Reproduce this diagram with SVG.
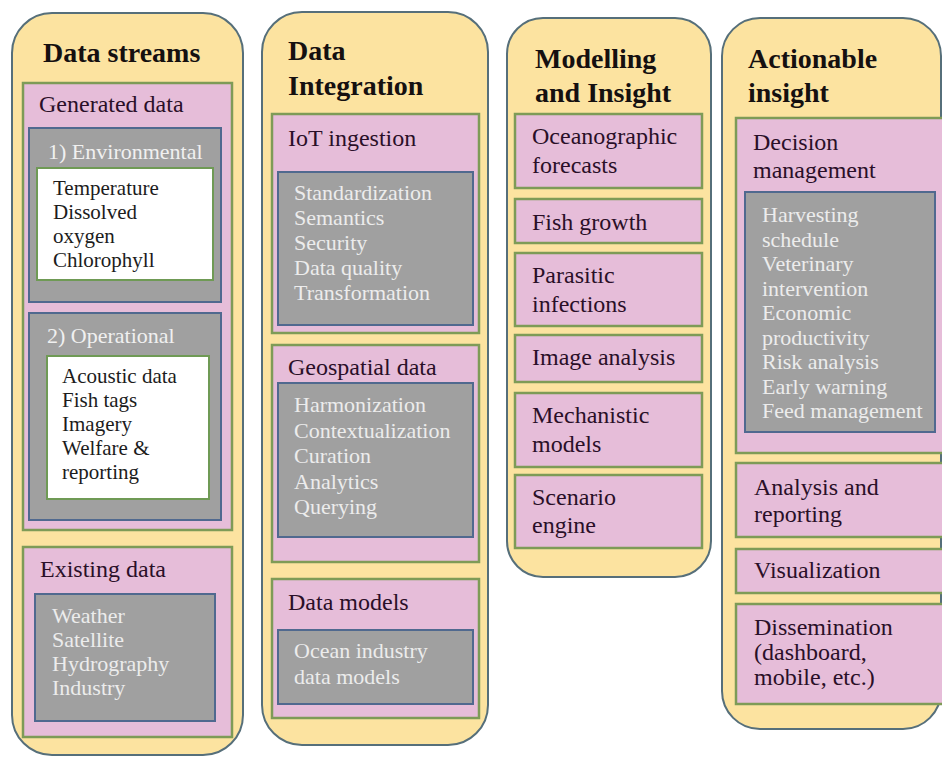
<svg xmlns="http://www.w3.org/2000/svg" width="942" height="758" viewBox="0 0 942 758" font-family="'Liberation Serif', 'DejaVu Serif', serif">
  <style>
    .col { fill: #fce3a0; stroke: #566f7a; stroke-width: 2; }
    .pink { fill: #e6bdd9; stroke: #7e9b57; stroke-width: 2.5; }
    .grey { fill: #a0a0a0; stroke: #50698f; stroke-width: 2; }
    .white { fill: #ffffff; stroke: #6f9a55; stroke-width: 2; }
    text { font-family: 'Liberation Serif', 'DejaVu Serif', serif; }
    .title { font-size: 28px; font-weight: bold; fill: #151010; }
    .head { font-size: 24px; fill: #2a0f28; }
    .item { font-size: 22px; fill: #ececec; }
    .sub { font-size: 22px; fill: #f0f0f0; }
    .dark { font-size: 21px; fill: #1c1c1c; }
  </style>
  <rect width="942" height="758" fill="#ffffff"/>

  <!-- Column 1: Data streams -->
  <g id="data-streams">
    <rect class="col" x="12" y="13" width="231" height="742" rx="40"/>
    <text class="title" x="43" y="62">Data streams</text>
    <g id="generated-data">
      <rect class="pink" x="23" y="83" width="209" height="447"/>
      <text class="head" x="39" y="112">Generated data</text>
      <g id="environmental">
        <rect class="grey" x="29" y="128" width="192" height="174"/>
        <text class="sub" x="48" y="159">1) Environmental</text>
        <rect class="white" x="37" y="168" width="176" height="112"/>
        <text class="dark" x="53" y="195">Temperature</text>
        <text class="dark" x="53" y="219">Dissolved</text>
        <text class="dark" x="53" y="243">oxygen</text>
        <text class="dark" x="53" y="267">Chlorophyll</text>
      </g>
      <g id="operational">
        <rect class="grey" x="29" y="313" width="192" height="207"/>
        <text class="sub" x="47" y="343">2) Operational</text>
        <rect class="white" x="47" y="356" width="162" height="143"/>
        <text class="dark" x="62" y="383">Acoustic data</text>
        <text class="dark" x="62" y="407">Fish tags</text>
        <text class="dark" x="62" y="431">Imagery</text>
        <text class="dark" x="62" y="455">Welfare &amp;</text>
        <text class="dark" x="62" y="479">reporting</text>
      </g>
    </g>
    <g id="existing-data">
      <rect class="pink" x="23" y="547" width="209" height="190"/>
      <text class="head" x="40" y="577">Existing data</text>
      <rect class="grey" x="35" y="594" width="180" height="127"/>
      <text class="item" x="52" y="623">Weather</text>
      <text class="item" x="52" y="647">Satellite</text>
      <text class="item" x="52" y="671">Hydrography</text>
      <text class="item" x="52" y="695">Industry</text>
    </g>
  </g>

  <!-- Column 2: Data Integration -->
  <g id="data-integration">
    <rect class="col" x="262" y="12" width="226" height="733" rx="40"/>
    <text class="title" x="288" y="60">Data</text>
    <text class="title" x="288" y="95">Integration</text>
    <g id="iot-ingestion">
      <rect class="pink" x="272" y="114" width="207" height="219"/>
      <text class="head" x="288" y="146">IoT ingestion</text>
      <rect class="grey" x="278" y="172" width="195" height="153"/>
      <text class="item" x="294" y="200">Standardization</text>
      <text class="item" x="294" y="225">Semantics</text>
      <text class="item" x="294" y="250">Security</text>
      <text class="item" x="294" y="275">Data quality</text>
      <text class="item" x="294" y="300">Transformation</text>
    </g>
    <g id="geospatial-data">
      <rect class="pink" x="272" y="345" width="207" height="217"/>
      <text class="head" x="288" y="375">Geospatial data</text>
      <rect class="grey" x="278" y="383" width="195" height="154"/>
      <text class="item" x="294" y="412">Harmonization</text>
      <text class="item" x="294" y="437.5">Contextualization</text>
      <text class="item" x="294" y="463">Curation</text>
      <text class="item" x="294" y="488.5">Analytics</text>
      <text class="item" x="294" y="514">Querying</text>
    </g>
    <g id="data-models">
      <rect class="pink" x="272" y="579" width="207" height="139"/>
      <text class="head" x="288" y="610">Data models</text>
      <rect class="grey" x="278" y="630" width="195" height="74"/>
      <text class="item" x="294" y="658">Ocean industry</text>
      <text class="item" x="294" y="684">data models</text>
    </g>
  </g>

  <!-- Column 3: Modelling and Insight -->
  <g id="modelling-insight">
    <rect class="col" x="507" y="18" width="204" height="559" rx="36"/>
    <text class="title" x="535" y="68">Modelling</text>
    <text class="title" x="535" y="102">and Insight</text>
    <g id="oceanographic-forecasts">
      <rect class="pink" x="515" y="114" width="187" height="74"/>
      <text class="head" x="532" y="144">Oceanographic</text>
      <text class="head" x="532" y="173">forecasts</text>
    </g>
    <g id="fish-growth">
      <rect class="pink" x="515" y="199" width="187" height="44"/>
      <text class="head" x="532" y="230">Fish growth</text>
    </g>
    <g id="parasitic-infections">
      <rect class="pink" x="515" y="253" width="187" height="73"/>
      <text class="head" x="532" y="283">Parasitic</text>
      <text class="head" x="532" y="312">infections</text>
    </g>
    <g id="image-analysis">
      <rect class="pink" x="515" y="335" width="187" height="47"/>
      <text class="head" x="532" y="365">Image analysis</text>
    </g>
    <g id="mechanistic-models">
      <rect class="pink" x="515" y="393" width="187" height="74"/>
      <text class="head" x="532" y="423">Mechanistic</text>
      <text class="head" x="532" y="452">models</text>
    </g>
    <g id="scenario-engine">
      <rect class="pink" x="515" y="475" width="187" height="73"/>
      <text class="head" x="532" y="505">Scenario</text>
      <text class="head" x="532" y="533">engine</text>
    </g>
  </g>

  <!-- Column 4: Actionable insight -->
  <g id="actionable-insight">
    <rect class="col" x="722" y="18" width="219" height="711" rx="38"/>
    <text class="title" x="748" y="68">Actionable</text>
    <text class="title" x="748" y="102">insight</text>
    <g id="decision-management">
      <rect class="pink" x="736" y="118" width="210" height="335"/>
      <text class="head" x="753" y="150">Decision</text>
      <text class="head" x="753" y="178">management</text>
      <rect class="grey" x="745" y="192" width="190" height="240"/>
      <text class="item" x="762" y="222">Harvesting</text>
      <text class="item" x="762" y="246.5">schedule</text>
      <text class="item" x="762" y="271">Veterinary</text>
      <text class="item" x="762" y="295.5">intervention</text>
      <text class="item" x="762" y="320">Economic</text>
      <text class="item" x="762" y="344.5">productivity</text>
      <text class="item" x="762" y="369">Risk analysis</text>
      <text class="item" x="762" y="393.5">Early warning</text>
      <text class="item" x="762" y="418">Feed management</text>
    </g>
    <g id="analysis-reporting">
      <rect class="pink" x="736" y="463" width="210" height="74"/>
      <text class="head" x="754" y="495">Analysis and</text>
      <text class="head" x="754" y="522">reporting</text>
    </g>
    <g id="visualization">
      <rect class="pink" x="736" y="549" width="210" height="44"/>
      <text class="head" x="754" y="578">Visualization</text>
    </g>
    <g id="dissemination">
      <rect class="pink" x="736" y="604" width="210" height="100"/>
      <text class="head" x="754" y="635">Dissemination</text>
      <text class="head" x="754" y="660">(dashboard,</text>
      <text class="head" x="754" y="685">mobile, etc.)</text>
    </g>
  </g>
</svg>
